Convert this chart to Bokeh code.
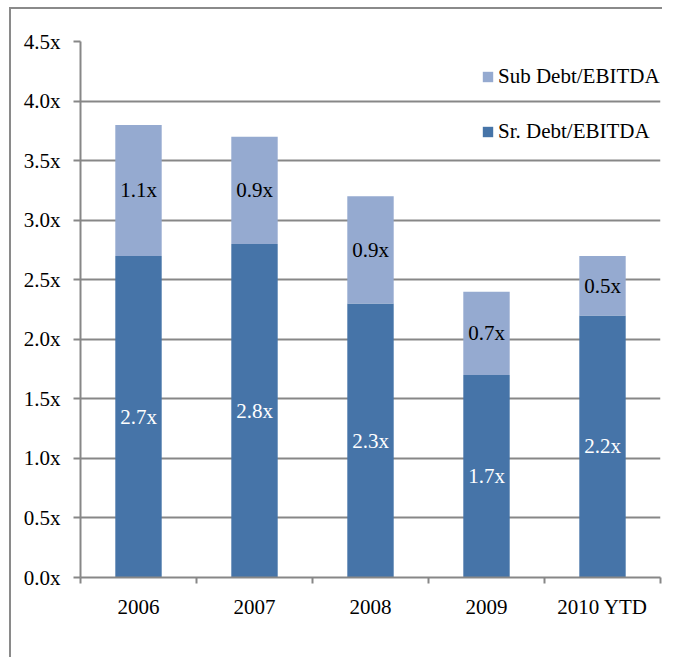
from bokeh.plotting import figure
from bokeh.models import ColumnDataSource, Range1d, FixedTicker, PrintfTickFormatter, Legend, LegendItem
from bokeh.core.properties import value
from bokeh.embed import file_html
from bokeh.resources import INLINE

years = ["2006", "2007", "2008", "2009", "2010 YTD"]
sr_debt = [2.7, 2.8, 2.3, 1.7, 2.2]
sub_debt = [1.1, 0.9, 0.9, 0.7, 0.5]
y_ticks = [0.0, 0.5, 1.0, 1.5, 2.0, 2.5, 3.0, 3.5, 4.0, 4.5]

SR_COLOR = "#4674A8"
SUB_COLOR = "#95AAD0"
GRID = "#878787"
FONT = "Liberation Serif"
FS = "21px"

xs = [i + 0.5 for i in range(len(years))]
tops = [a + b for a, b in zip(sr_debt, sub_debt)]
src = ColumnDataSource(dict(
    x=xs, sr=sr_debt, sub=sub_debt, top=tops,
    sr_mid=[a / 2 for a in sr_debt],
    sub_mid=[a + b / 2 for a, b in zip(sr_debt, sub_debt)],
    sr_lbl=[f"{a:.1f}x" for a in sr_debt],
    sub_lbl=[f"{b:.1f}x" for b in sub_debt],
))

p = figure(width=653, height=650, output_backend="svg", toolbar_location=None,
           x_range=Range1d(0, len(years)), y_range=Range1d(0, 4.5),
           min_border_left=69, min_border_top=32, min_border_right=4, min_border_bottom=82)
p.styles = {"border-left": "2px solid #8a8a8a", "border-top": "2px solid #8a8a8a",
            "margin-left": "9px", "margin-top": "7px"}
p.outline_line_color = None
p.background_fill_color = "white"

r_sr = p.vbar(x="x", width=0.4, bottom=0, top="sr", source=src, fill_color=SR_COLOR, line_color=None)
r_sub = p.vbar(x="x", width=0.4, bottom="sr", top="top", source=src, fill_color=SUB_COLOR, line_color=None)

p.text(x="x", y="sr_mid", text="sr_lbl", source=src, text_color="white",
       text_font=value(FONT), text_font_size=FS, text_align="center", text_baseline="middle")
p.text(x="x", y="sub_mid", text="sub_lbl", source=src, text_color="black",
       text_font=value(FONT), text_font_size=FS, text_align="center", text_baseline="middle")

# y axis
p.yaxis.ticker = FixedTicker(ticks=y_ticks)
p.yaxis.formatter = PrintfTickFormatter(format="%.1fx")
p.yaxis.axis_line_color = GRID
p.yaxis.axis_line_width = 2
p.yaxis.major_tick_line_color = GRID
p.yaxis.major_tick_line_width = 2
p.yaxis.major_tick_out = 7
p.yaxis.major_tick_in = 0
p.yaxis.minor_tick_line_color = None
p.yaxis.major_label_text_font = FONT
p.yaxis.major_label_text_font_size = FS
p.yaxis.major_label_text_color = "black"
p.yaxis.major_label_standoff = 13

# x axis: labels at centers, ticks at boundaries
p.xaxis.ticker = FixedTicker(ticks=xs, minor_ticks=list(range(len(years) + 1)))
p.xaxis.major_label_overrides = {x: y for x, y in zip(xs, years)}
p.xaxis.axis_line_color = GRID
p.xaxis.axis_line_width = 2
p.xaxis.major_tick_line_color = None
p.xaxis.major_tick_out = 0
p.xaxis.major_tick_in = 0
p.xaxis.minor_tick_line_color = GRID
p.xaxis.minor_tick_line_width = 2
p.xaxis.minor_tick_out = 6
p.xaxis.minor_tick_in = 0
p.xaxis.major_label_text_font = FONT
p.xaxis.major_label_text_font_size = FS
p.xaxis.major_label_text_color = "black"
p.xaxis.major_label_standoff = 11

p.xgrid.grid_line_color = None
p.ygrid.grid_line_color = GRID
p.ygrid.grid_line_width = 2

legend = Legend(items=[LegendItem(label="Sub Debt/EBITDA", renderers=[r_sub]),
                       LegendItem(label="Sr. Debt/EBITDA", renderers=[r_sr])],
                location=(401, 433), padding=0, margin=0, spacing=30,
                glyph_width=13, glyph_height=13, label_height=20, label_standoff=4,
                label_text_font=FONT, label_text_font_size=FS, label_text_color="black",
                border_line_color=None, background_fill_alpha=0)
p.add_layout(legend, "center")

open("out.html", "w").write(file_html(p, INLINE))
